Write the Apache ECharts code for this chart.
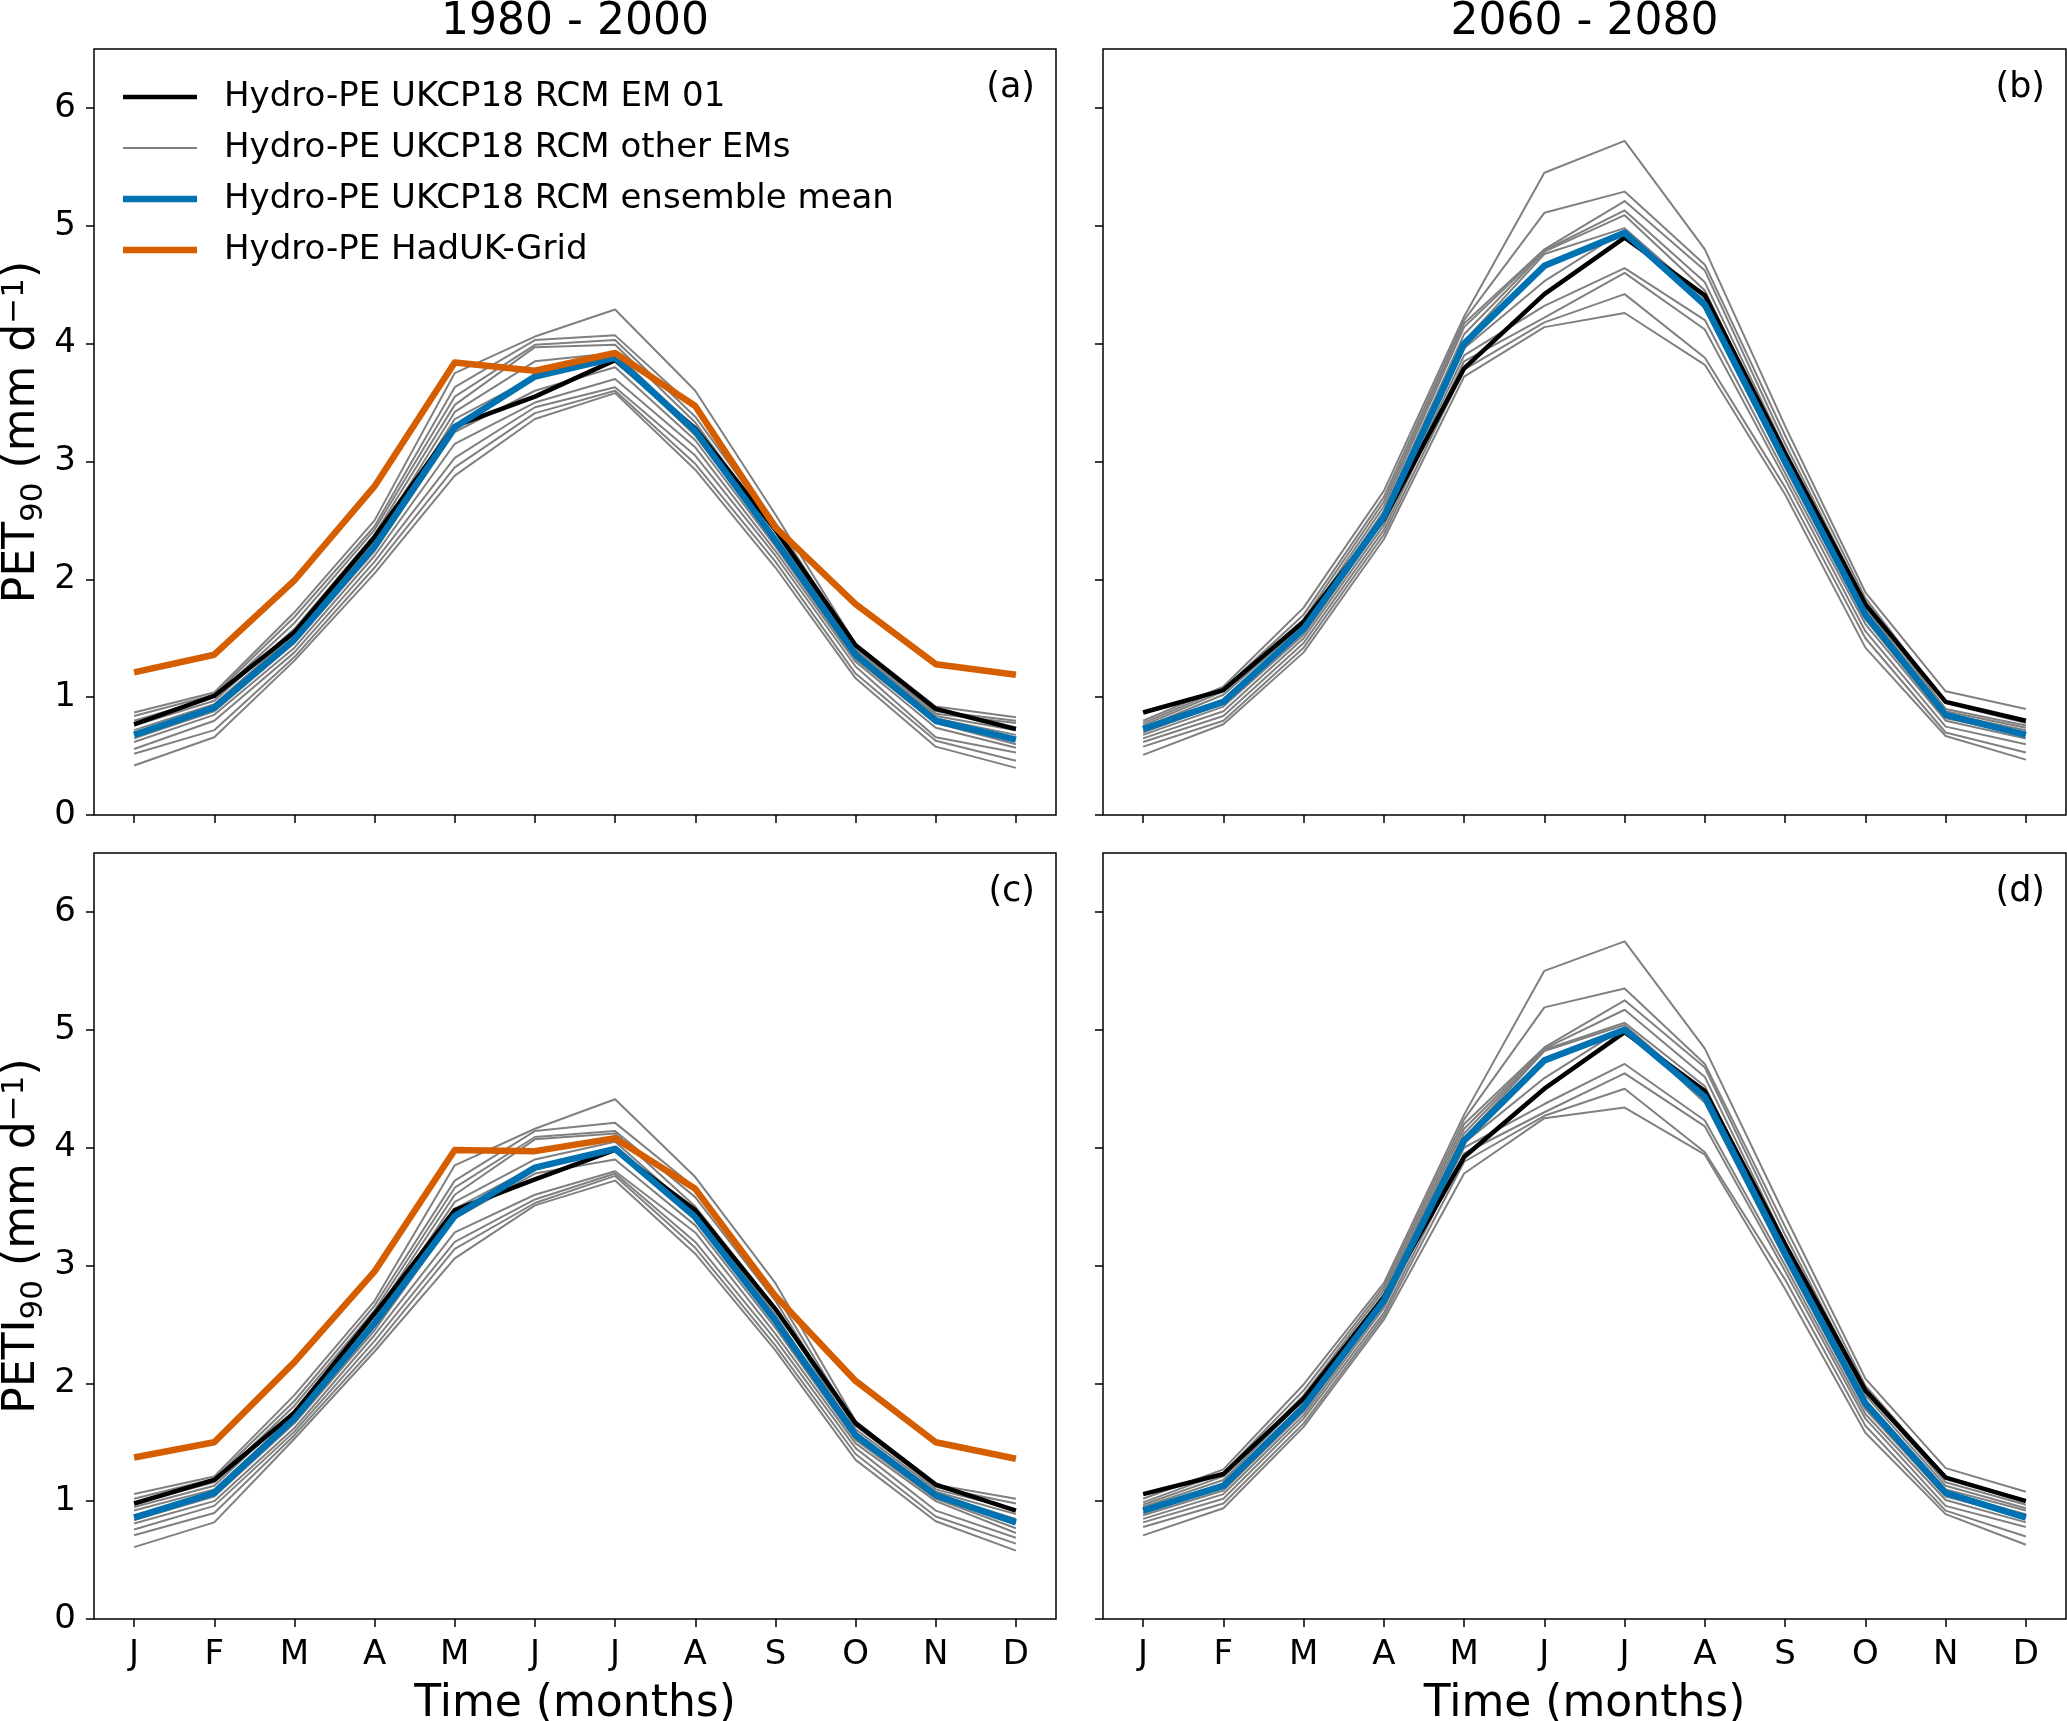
<!DOCTYPE html>
<html><head><meta charset="utf-8">
<script src="https://cdn.jsdelivr.net/npm/echarts@6/dist/echarts.min.js"></script>
<style>html,body{margin:0;padding:0;background:#fff}#chart{width:2067px;height:1721px}</style>
</head><body><div id="chart"></div>
<script>
// ---------------- data ----------------
const months = ['J','F','M','A','M','J','J','A','S','O','N','D'];
const yTicks = [0, 1, 2, 3, 4, 5, 6];
const periodTitles = ['1980 - 2000', '2060 - 2080'];
const panelLabels = ['(a)', '(b)', '(c)', '(d)'];
const yLabelStems = ['PET', 'PETI'];
const yLabelSub = '90';
const yLabelUnit = ' (mm d';
const yLabelSup = '−1';
const xLabel = 'Time (months)';
const nameEM01 = 'Hydro-PE UKCP18 RCM EM 01';
const nameOther = 'Hydro-PE UKCP18 RCM other EMs';
const nameMean = 'Hydro-PE UKCP18 RCM ensemble mean';
const nameHad = 'Hydro-PE HadUK-Grid';

// Panel (a): PET90, 1980-2000
const aEM01 = [0.77,1.01,1.55,2.36,3.30,3.55,3.86,3.28,2.42,1.44,0.90,0.73];
const aMean = [0.68,0.91,1.49,2.28,3.29,3.72,3.88,3.26,2.33,1.36,0.80,0.64];
const aHad  = [1.21,1.36,1.99,2.79,3.84,3.77,3.92,3.47,2.44,1.79,1.28,1.19];
const aOthers = [
  [0.87,1.04,1.72,2.50,3.75,4.06,4.29,3.60,2.55,1.45,0.92,0.83],
  [0.84,1.02,1.68,2.45,3.63,4.03,4.07,3.45,2.48,1.42,0.88,0.80],
  [0.80,1.00,1.63,2.42,3.55,3.99,4.03,3.38,2.44,1.40,0.86,0.78],
  [0.76,0.97,1.58,2.38,3.48,3.97,3.99,3.33,2.40,1.38,0.84,0.72],
  [0.72,0.94,1.54,2.33,3.42,3.85,3.92,3.28,2.36,1.36,0.82,0.68],
  [0.68,0.92,1.50,2.28,3.36,3.72,3.88,3.22,2.32,1.34,0.80,0.64],
  [0.65,0.88,1.46,2.24,3.25,3.60,3.80,3.18,2.28,1.32,0.78,0.60],
  [0.62,0.85,1.42,2.20,3.15,3.50,3.70,3.12,2.24,1.30,0.74,0.57],
  [0.56,0.80,1.38,2.15,3.03,3.46,3.63,3.05,2.20,1.26,0.66,0.53],
  [0.52,0.72,1.34,2.10,2.95,3.41,3.60,2.98,2.15,1.20,0.63,0.46],
  [0.42,0.66,1.31,2.05,2.88,3.36,3.58,2.93,2.10,1.16,0.58,0.40]
];

// Panel (b): PET90, 2060-2080
const bEM01 = [0.87,1.06,1.64,2.51,3.79,4.42,4.90,4.41,3.07,1.79,0.96,0.80];
const bMean = [0.73,0.96,1.58,2.53,4.00,4.66,4.94,4.33,3.00,1.70,0.85,0.68];
const bOthers = [
  [0.80,1.09,1.76,2.75,4.23,5.45,5.72,4.80,3.30,1.89,1.05,0.90],
  [0.78,1.07,1.70,2.70,4.20,5.11,5.29,4.67,3.22,1.84,0.95,0.78],
  [0.76,1.05,1.66,2.66,4.17,4.80,5.21,4.62,3.15,1.80,0.90,0.76],
  [0.74,1.02,1.62,2.62,4.14,4.79,5.13,4.52,3.10,1.76,0.88,0.74],
  [0.72,0.98,1.59,2.58,4.08,4.78,5.09,4.45,3.05,1.73,0.86,0.72],
  [0.70,0.95,1.56,2.54,4.02,4.76,4.98,4.38,3.00,1.70,0.84,0.70],
  [0.68,0.92,1.53,2.50,3.96,4.53,4.96,4.30,2.95,1.66,0.82,0.68],
  [0.65,0.88,1.50,2.46,3.90,4.32,4.64,4.20,2.90,1.62,0.80,0.65],
  [0.62,0.84,1.46,2.42,3.85,4.22,4.60,4.12,2.85,1.56,0.75,0.60],
  [0.58,0.80,1.42,2.38,3.78,4.18,4.42,3.88,2.78,1.50,0.70,0.53],
  [0.51,0.77,1.38,2.34,3.72,4.14,4.26,3.82,2.72,1.42,0.67,0.47]
];

// Panel (c): PETI90, 1980-2000
const cEM01 = [0.98,1.18,1.75,2.59,3.47,3.73,3.98,3.47,2.63,1.66,1.14,0.92];
const cMean = [0.86,1.07,1.70,2.51,3.42,3.83,3.99,3.41,2.53,1.56,1.05,0.82];
const cHad  = [1.37,1.50,2.18,2.95,3.98,3.97,4.08,3.65,2.74,2.02,1.50,1.36];
const cOthers = [
  [1.06,1.21,1.90,2.70,3.85,4.16,4.41,3.75,2.85,1.68,1.14,1.02],
  [1.02,1.19,1.85,2.66,3.72,4.14,4.21,3.66,2.76,1.64,1.12,0.98],
  [0.98,1.16,1.81,2.62,3.66,4.09,4.14,3.58,2.70,1.61,1.10,0.93],
  [0.95,1.13,1.77,2.58,3.60,4.07,4.12,3.50,2.64,1.58,1.08,0.89],
  [0.92,1.10,1.73,2.53,3.54,3.90,4.05,3.45,2.58,1.56,1.06,0.85],
  [0.88,1.07,1.69,2.49,3.48,3.84,4.00,3.40,2.52,1.54,1.04,0.81],
  [0.84,1.04,1.66,2.45,3.40,3.78,3.90,3.34,2.47,1.52,1.02,0.77],
  [0.81,1.00,1.62,2.41,3.28,3.60,3.80,3.28,2.42,1.49,1.00,0.73],
  [0.76,0.96,1.59,2.36,3.20,3.56,3.78,3.20,2.37,1.45,0.92,0.69],
  [0.71,0.90,1.56,2.31,3.14,3.53,3.76,3.15,2.32,1.40,0.87,0.64],
  [0.61,0.82,1.53,2.27,3.06,3.51,3.72,3.10,2.28,1.35,0.83,0.58]
];

// Panel (d): PETI90, 2060-2080
const dEM01 = [1.06,1.23,1.87,2.73,3.92,4.50,4.98,4.48,3.18,1.94,1.20,1.00];
const dMean = [0.92,1.13,1.80,2.70,4.06,4.74,5.00,4.43,3.10,1.83,1.07,0.86];
const dOthers = [
  [1.02,1.27,1.99,2.85,4.28,5.50,5.75,4.84,3.42,2.04,1.28,1.08],
  [0.99,1.24,1.94,2.82,4.24,5.19,5.35,4.71,3.33,1.98,1.20,1.01],
  [0.97,1.21,1.90,2.79,4.20,4.85,5.25,4.68,3.26,1.94,1.16,0.97],
  [0.95,1.18,1.86,2.76,4.16,4.84,5.17,4.60,3.20,1.90,1.13,0.94],
  [0.93,1.15,1.82,2.73,4.12,4.83,5.06,4.52,3.15,1.86,1.10,0.92],
  [0.90,1.12,1.79,2.70,4.08,4.82,5.04,4.45,3.10,1.82,1.07,0.89],
  [0.88,1.09,1.76,2.67,4.04,4.59,5.02,4.38,3.05,1.78,1.04,0.86],
  [0.85,1.06,1.73,2.64,4.00,4.37,4.71,4.23,3.00,1.74,1.01,0.82],
  [0.82,1.02,1.70,2.60,3.95,4.30,4.63,4.18,2.95,1.70,0.96,0.78],
  [0.78,0.98,1.66,2.57,3.88,4.27,4.50,3.96,2.88,1.64,0.92,0.70],
  [0.71,0.94,1.63,2.54,3.78,4.25,4.34,3.94,2.80,1.58,0.89,0.63]
];

// ---------------- chart ----------------
const FONT = 'DejaVu Sans';
const C_BLACK = '#000000', C_GREY = '#808080', C_BLUE = '#0072B2', C_ORANGE = '#D55E00';
const W_BLACK = 4.5, W_GREY = 2, W_BLUE = 6.5, W_ORANGE = 6.5;

const panels = [
  {em: aEM01, mean: aMean, had: aHad, others: aOthers},
  {em: bEM01, mean: bMean, had: null, others: bOthers},
  {em: cEM01, mean: cMean, had: cHad, others: cOthers},
  {em: dEM01, mean: dMean, had: null, others: dOthers}
];
const grids = [
  {left: 94, top: 49, width: 962, height: 766},
  {left: 1103, top: 49, width: 963, height: 766},
  {left: 94, top: 853, width: 962, height: 766},
  {left: 1103, top: 853, width: 963, height: 766}
];

const tickStyle = {color: '#000', width: 1.5};
const yNameRich = {
  b: {fontSize: 44, fontFamily: FONT, color: '#000', verticalAlign: 'middle'},
  s: {fontSize: 31, fontFamily: FONT, color: '#000', verticalAlign: 'middle', padding: [22, 0, 0, 0]},
  p: {fontSize: 31, fontFamily: FONT, color: '#000', verticalAlign: 'middle', padding: [0, 0, 16, 0]}
};
const xAxes = [], yAxes = [], series = [], graphics = [];

grids.forEach((g, i) => {
  const bottomRow = i >= 2, leftCol = i % 2 === 0;
  xAxes.push({
    gridIndex: i, type: 'category', data: months, boundaryGap: true,
    axisLine: {show: false},
    axisTick: {show: true, alignWithLabel: true, length: 8, inside: false, lineStyle: tickStyle},
    axisLabel: {show: bottomRow, interval: 0, margin: 19, fontSize: 34, fontFamily: FONT, color: '#000'},
    splitLine: {show: false},
    name: bottomRow ? xLabel : '', nameLocation: 'middle', nameGap: 64,
    nameTextStyle: {fontSize: 44, fontFamily: FONT, color: '#000'}
  });
  const yName = '{b|' + yLabelStems[i >> 1] + '}{s|' + yLabelSub + '}{b|' + yLabelUnit + '}{p|' + yLabelSup + '}{b|)}';
  yAxes.push({
    gridIndex: i, type: 'value', min: 0, max: 6.5, interval: 1,
    axisLine: {show: false},
    axisTick: {show: true, length: 8, customValues: yTicks, lineStyle: tickStyle},
    axisLabel: {show: leftCol, customValues: yTicks, margin: 18, fontSize: 34, fontFamily: FONT, color: '#000'},
    splitLine: {show: false},
    name: leftCol ? yName : '', nameLocation: 'middle', nameGap: 45, nameRotate: 90,
    nameTextStyle: {fontSize: 44, fontFamily: FONT, color: '#000', rich: yNameRich}
  });
  const p = panels[i];
  const mk = (name, data, color, width) => ({
    type: 'line', name: name, xAxisIndex: i, yAxisIndex: i, data: data,
    symbol: 'none', color: color, silent: true, animation: false,
    lineStyle: {color: color, width: width, join: 'round', cap: 'butt'},
    itemStyle: {color: color}
  });
  p.others.forEach(arr => series.push(mk(nameOther, arr, C_GREY, W_GREY)));
  series.push(mk(nameEM01, p.em, C_BLACK, W_BLACK));
  series.push(mk(nameMean, p.mean, C_BLUE, W_BLUE));
  if (p.had) series.push(mk(nameHad, p.had, C_ORANGE, W_ORANGE));

  graphics.push({
    type: 'text', x: g.left + g.width - 21, y: g.top + 39, silent: true,
    style: {text: panelLabels[i], font: '35px "DejaVu Sans"', fill: '#000', align: 'right', verticalAlign: 'middle'}
  });
});

periodTitles.forEach((t, k) => {
  const g = grids[k];
  graphics.push({
    type: 'text', x: g.left + g.width / 2, y: 23, silent: true,
    style: {text: t, font: '44px "DejaVu Sans"', fill: '#000', align: 'center', verticalAlign: 'middle'}
  });
});

const option = {
  animation: false,
  backgroundColor: '#ffffff',
  grid: grids.map(g => Object.assign({show: true, borderColor: '#000', borderWidth: 1.5, backgroundColor: 'transparent', containLabel: false, outerBoundsMode: 'none'}, g)),
  xAxis: xAxes,
  yAxis: yAxes,
  legend: {
    orient: 'vertical', left: 123, top: 80, selectedMode: false,
    itemWidth: 74, itemHeight: 14, itemGap: 17, padding: 0,
    itemStyle: {borderWidth: 0},
    textStyle: {fontSize: 34, fontFamily: FONT, color: '#000', padding: [0, 0, 0, 22]},
    data: [
      {name: nameEM01, icon: 'path://M0,0H74V4.5H0Z'},
      {name: nameOther, icon: 'path://M0,0H74V2H0Z'},
      {name: nameMean, icon: 'path://M0,0H74V6.5H0Z'},
      {name: nameHad, icon: 'path://M0,0H74V6.5H0Z'}
    ]
  },
  graphic: graphics,
  series: series
};

const chart = echarts.init(document.getElementById('chart'), null, {renderer: 'canvas'});
chart.setOption(option);
</script></body></html>
